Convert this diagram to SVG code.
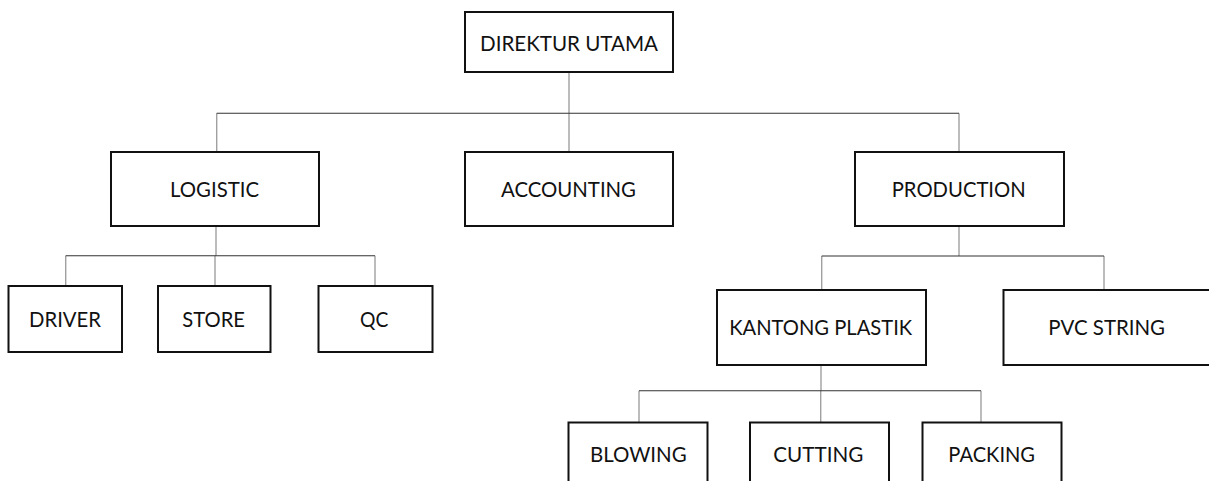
<svg xmlns="http://www.w3.org/2000/svg" width="1209" height="481" viewBox="0 0 1209 481">
<style>
.box{fill:#fff;stroke:#111;stroke-width:2}
.lbl{font-family:Lato,"Open Sans","Liberation Sans",sans-serif;font-size:21.5px;fill:#111;text-anchor:middle}
.v{stroke:#a0a0a0;stroke-width:1.4;fill:none}
.h{stroke:#333;stroke-width:1.1;fill:none}
</style>
<rect width="1209" height="481" fill="#fff"/>
<g id="connectors">
<path class="v" d="M569 72V113.3M216.7 113.3V152M569 113.3V152M959 113.3V152"/>
<path class="h" d="M216.7 113.3H959"/>
<path class="v" d="M216 226V255.7M65.7 255.7V286M215 255.7V286M375 255.7V286"/>
<path class="h" d="M65.7 255.7H375"/>
<path class="v" d="M959 226V256M821.7 256V290M1104 256V290"/>
<path class="h" d="M821.7 256H1104"/>
<path class="v" d="M821 365V390.7M639 390.7V422.5M820.7 390.7V422.5M981 390.7V422.5"/>
<path class="h" d="M639 390.7H981"/>
</g>
<g id="direktur"><rect class="box" x="465" y="12" width="208" height="60"/><text class="lbl" x="569" y="50.5" textLength="178" lengthAdjust="spacingAndGlyphs">DIREKTUR UTAMA</text></g>
<g id="logistic"><rect class="box" x="111" y="152" width="208" height="74"/><text class="lbl" x="214.5" y="197.3" textLength="89" lengthAdjust="spacingAndGlyphs">LOGISTIC</text></g>
<g id="accounting"><rect class="box" x="465" y="152" width="208" height="74"/><text class="lbl" x="568.5" y="196.5" textLength="135" lengthAdjust="spacingAndGlyphs">ACCOUNTING</text></g>
<g id="production"><rect class="box" x="855" y="152" width="209" height="74"/><text class="lbl" x="958.7" y="196.7" textLength="134" lengthAdjust="spacingAndGlyphs">PRODUCTION</text></g>
<g id="driver"><rect class="box" x="8.5" y="286" width="113.5" height="66"/><text class="lbl" x="65" y="327.3" textLength="72" lengthAdjust="spacingAndGlyphs">DRIVER</text></g>
<g id="store"><rect class="box" x="158" y="286" width="112.5" height="66"/><text class="lbl" x="213.7" y="327.3" textLength="62.7" lengthAdjust="spacingAndGlyphs">STORE</text></g>
<g id="qc"><rect class="box" x="318.5" y="286" width="114" height="66"/><text class="lbl" x="374.2" y="327.3" textLength="28.3" lengthAdjust="spacingAndGlyphs">QC</text></g>
<g id="kantong"><rect class="box" x="717" y="290" width="209" height="75"/><text class="lbl" x="820.7" y="335" textLength="183" lengthAdjust="spacingAndGlyphs">KANTONG PLASTIK</text></g>
<g id="pvc"><rect class="box" x="1003.5" y="290" width="220" height="75"/><text class="lbl" x="1106.7" y="335" textLength="116.7" lengthAdjust="spacingAndGlyphs">PVC STRING</text></g>
<g id="blowing"><rect class="box" x="568.5" y="422.5" width="139" height="80"/><text class="lbl" x="638.3" y="461.7" textLength="96.7" lengthAdjust="spacingAndGlyphs">BLOWING</text></g>
<g id="cutting"><rect class="box" x="750" y="422.5" width="139" height="80"/><text class="lbl" x="818.3" y="461.7" textLength="90" lengthAdjust="spacingAndGlyphs">CUTTING</text></g>
<g id="packing"><rect class="box" x="922.5" y="422.5" width="139" height="80"/><text class="lbl" x="991.7" y="461.7" textLength="86.7" lengthAdjust="spacingAndGlyphs">PACKING</text></g>
</svg>
